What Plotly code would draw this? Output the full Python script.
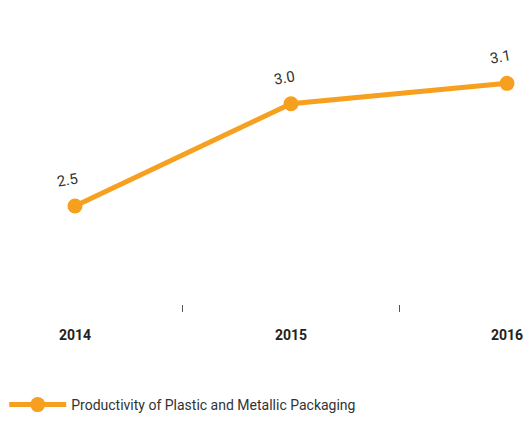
import plotly.graph_objects as go

years = ["2014", "2015", "2016"]
values = [2.5, 3.0, 3.1]
labels = ["2.5", "3.0", "3.1"]
series_name = "Productivity of Plastic and Metallic Packaging"

ORANGE = "#F7A01F"
FONT = "Roboto, sans-serif"

fig = go.Figure()
fig.add_trace(go.Scatter(
    x=years, y=values, mode="lines+markers", name=series_name,
    line=dict(color=ORANGE, width=5),
    marker=dict(color=ORANGE, size=15),
    cliponaxis=False,
))

for i, (yv, lab) in enumerate(zip(values, labels)):
    fig.add_annotation(x=i, y=yv, xref="x", yref="y", text=lab, showarrow=False,
                       xshift=-7, yshift=26, textangle=-10,
                       font=dict(family=FONT, size=15, color="#333333"))

fig.update_layout(
    width=528, height=421,
    margin=dict(l=0, r=0, t=20, b=114),
    paper_bgcolor="white", plot_bgcolor="white",
    showlegend=True,
    legend=dict(orientation="h", x=0.008, y=-0.30, xanchor="left", yanchor="top",
                font=dict(family=FONT, size=14, color="#333333"),
                itemwidth=57),
    xaxis=dict(type="category", range=[-0.347, 2.097], tickson="boundaries",
               ticks="outside", ticklen=7, tickwidth=1, tickcolor="#555555",
               showline=False, showgrid=False, zeroline=False,
               tickfont=dict(family=FONT, size=14, color="#222222", weight="bold"),
               ticklabelstandoff=21),
    yaxis=dict(range=[2.02, 3.41], showticklabels=False, showgrid=False,
               zeroline=False, showline=False, ticks=""),
)

fig.write_html("out.html", config={"displayModeBar": False},
               post_script="document.body.style.margin='0';")
